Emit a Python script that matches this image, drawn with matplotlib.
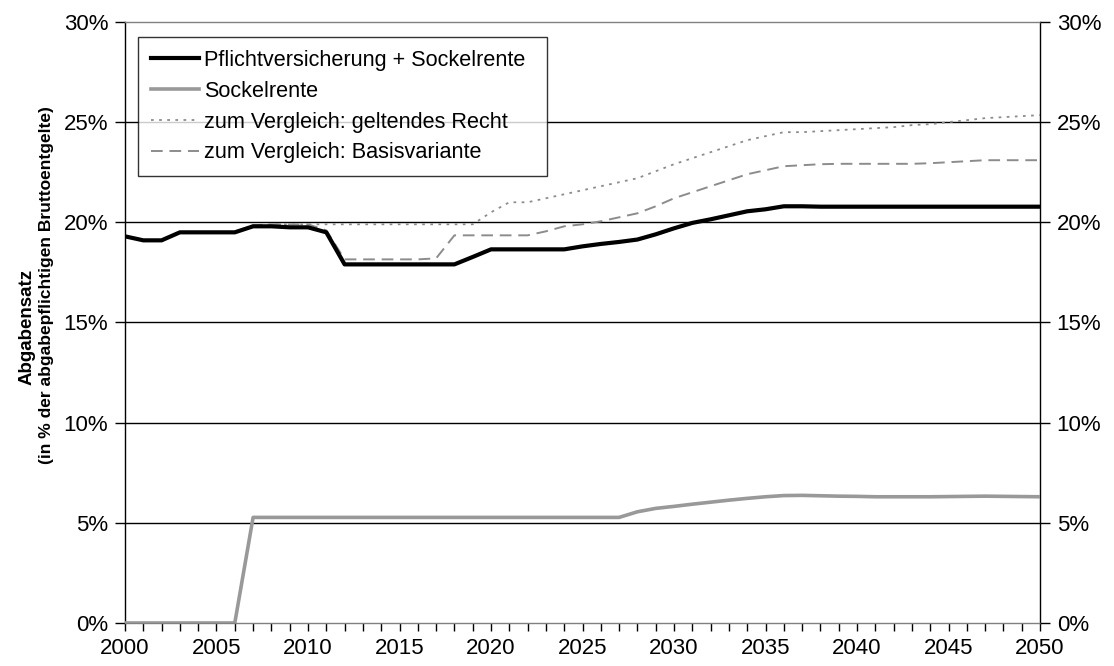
import numpy as np
import matplotlib.pyplot as plt
from matplotlib.ticker import MultipleLocator, FuncFormatter

plt.rcParams['font.family'] = ['Liberation Sans', 'DejaVu Sans']

years = list(range(2000, 2051))

pflicht = [19.3, 19.1, 19.1, 19.5, 19.5, 19.5, 19.5, 19.8, 19.8, 19.75,
           19.75, 19.5, 17.9, 17.9, 17.9, 17.9, 17.9, 17.9, 17.9, 18.27,
           18.65, 18.65, 18.65, 18.65, 18.65, 18.8, 18.92, 19.02, 19.14, 19.4,
           19.7, 19.97, 20.15, 20.35, 20.55, 20.65, 20.8, 20.8, 20.78, 20.78,
           20.78, 20.78, 20.78, 20.78, 20.78, 20.78, 20.78, 20.78, 20.78, 20.78,
           20.78]

sockel = [0, 0, 0, 0, 0, 0, 0, 5.27, 5.27, 5.27,
          5.27, 5.27, 5.27, 5.27, 5.27, 5.27, 5.27, 5.27, 5.27, 5.27,
          5.27, 5.27, 5.27, 5.27, 5.27, 5.27, 5.27, 5.27, 5.55, 5.72,
          5.82, 5.93, 6.03, 6.13, 6.22, 6.3, 6.36, 6.37, 6.35, 6.33,
          6.32, 6.3, 6.3, 6.3, 6.3, 6.31, 6.32, 6.33, 6.32, 6.31,
          6.3]

geltend = [19.3, 19.1, 19.1, 19.5, 19.5, 19.5, 19.5, 19.85, 19.9, 19.9,
           19.9, 19.9, 19.9, 19.9, 19.9, 19.9, 19.9, 19.9, 19.9, 19.9,
           20.5, 21.0, 21.0, 21.2, 21.4, 21.6, 21.8, 22.0, 22.2, 22.55,
           22.9, 23.2, 23.5, 23.8, 24.1, 24.3, 24.5, 24.5, 24.55, 24.6,
           24.65, 24.7, 24.75, 24.85, 24.9, 25.0, 25.1, 25.2, 25.25, 25.3,
           25.35]

basis = [19.3, 19.1, 19.1, 19.5, 19.5, 19.5, 19.5, 19.85, 19.9, 19.9,
         19.9, 19.6, 18.15, 18.15, 18.15, 18.15, 18.15, 18.2, 19.35, 19.35,
         19.35, 19.35, 19.35, 19.55, 19.8, 19.9, 20.05, 20.25, 20.45, 20.8,
         21.2, 21.5, 21.8, 22.1, 22.4, 22.6, 22.8, 22.85, 22.9, 22.92,
         22.92, 22.92, 22.92, 22.92, 22.95, 23.0, 23.05, 23.1, 23.1, 23.1,
         23.1]

labels = ['Pflichtversicherung + Sockelrente', 'Sockelrente',
          'zum Vergleich: geltendes Recht', 'zum Vergleich: Basisvariante']

fig = plt.figure(figsize=(11.14, 6.66), dpi=100)
ax = fig.add_axes([0.1122, 0.0646, 0.8214, 0.9024])

ax.plot(years, geltend, color='#8c8c8c', lw=1.3, linestyle=(0, (1.5, 3)), label=labels[2], zorder=3)
ax.plot(years, basis, color='#8c8c8c', lw=1.4, linestyle=(0, (6, 3.5)), label=labels[3], zorder=3)
ax.plot(years, pflicht, color='black', lw=3.0, label=labels[0], zorder=4)
ax.plot(years, sockel, color='#999999', lw=2.6, label=labels[1], zorder=4)

ax.set_xlim(2000, 2050)
ax.set_ylim(0, 30)
ax.xaxis.set_major_locator(MultipleLocator(5))
ax.xaxis.set_minor_locator(MultipleLocator(1))
ax.yaxis.set_major_locator(MultipleLocator(5))
pct = FuncFormatter(lambda v, p: f'{v:.0f}%')
ax.yaxis.set_major_formatter(pct)

for y in range(5, 30, 5):
    ax.axhline(y, color='black', lw=1.0, zorder=1)

ax.spines['top'].set_color('#808080')
ax.spines['bottom'].set_color('#808080')
ax.spines['left'].set_color('black')
ax.spines['right'].set_color('black')
for s in ax.spines.values():
    s.set_linewidth(1.0)

ax.tick_params(axis='x', which='both', direction='out', length=6, width=1.0,
               color='black', labelsize=16, pad=5)
ax.tick_params(axis='y', direction='out', length=7, width=1.0, labelsize=16, pad=5)

ax2 = ax.twinx()
ax2.set_ylim(0, 30)
ax2.yaxis.set_major_locator(MultipleLocator(5))
ax2.yaxis.set_major_formatter(pct)
ax2.tick_params(axis='y', direction='out', length=7, width=1.0, labelsize=16, pad=5)
for s in ax2.spines.values():
    s.set_visible(False)

handles, labs = ax.get_legend_handles_labels()
order = [labs.index(l) for l in labels]
leg = ax.legend([handles[i] for i in order], [labs[i] for i in order],
                loc='upper left', bbox_to_anchor=(0.0142, 0.975, 0.447, 0), mode='expand',
                fontsize=15.6, frameon=True, fancybox=False, handlelength=2.2,
                handletextpad=0.25, labelspacing=0.45, borderpad=0.6, borderaxespad=0)
leg.get_frame().set_edgecolor('black')
leg.get_frame().set_linewidth(1.0)

fig.text(0.024, 0.509, 'Abgabensatz', rotation=90, ha='center', va='center',
         fontsize=13.5, fontweight='bold')
fig.text(0.042, 0.572, '(in % der abgabepflichtigen Bruttoentgelte)', rotation=90,
         ha='center', va='center', fontsize=12.5, fontweight='bold')

fig.savefig('out.png', dpi=100)
